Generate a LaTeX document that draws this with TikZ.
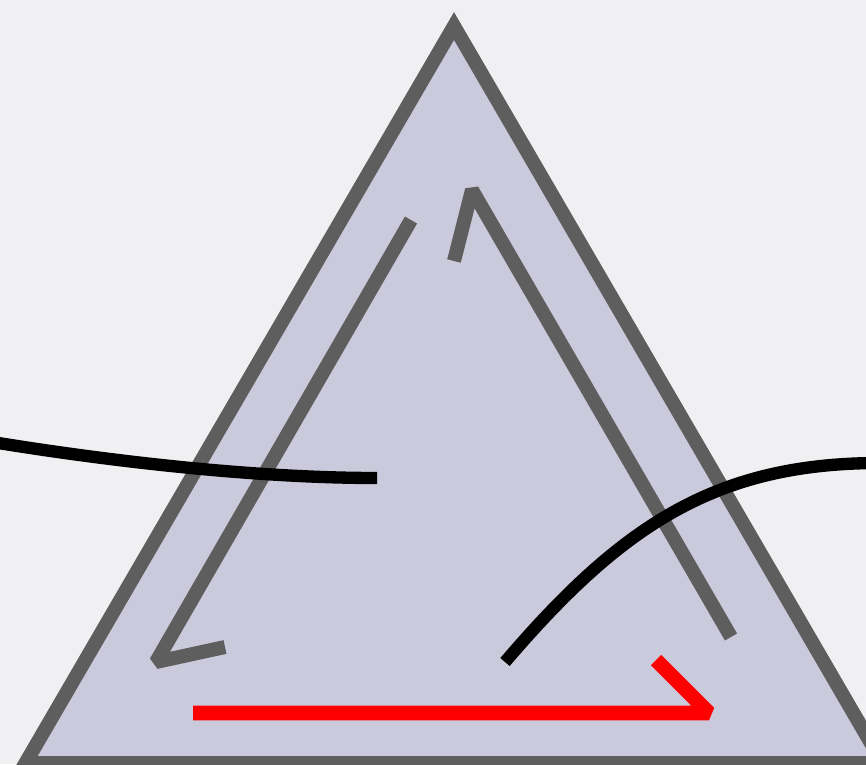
\documentclass[tikz,border=0pt]{standalone}
\definecolor{bgcol}{HTML}{F0F0F3}
\definecolor{trifill}{HTML}{CBCADD}
\definecolor{grayline}{HTML}{5E5E5E}
\definecolor{redline}{HTML}{FF0000}
\begin{document}
\begin{tikzpicture}[x=0.75pt,y=-0.75pt,
  tri/.style={draw=grayline,fill=trifill,line width=10.5pt,line join=miter},
  grayseg/.style={draw=grayline,line width=10.5pt,line join=bevel,line cap=butt},
  redseg/.style={draw=redline,line width=11pt,line join=bevel,line cap=butt},
  blackcurve/.style={draw=black,line width=9.25pt,line cap=butt}]
\fill[bgcol] (0,0) rectangle (866,764);
\useasboundingbox (0,0) rectangle (866,764);
\begin{scope}
\clip (0,0) rectangle (866,764);
% triangle
\coordinate (apex) at (454,26);
\coordinate (bl) at (25.5,763);
\coordinate (br) at (882.5,763);
\draw[tri] (apex) -- (bl) -- (br) -- cycle;
% inner gray polylines
\coordinate (g1a) at (411,220);
\coordinate (g1b) at (156,662);
\coordinate (g1c) at (225,647);
\draw[grayseg] (g1a) -- (g1b) -- (g1c);
\coordinate (g2a) at (454,261);
\coordinate (g2b) at (472,190);
\coordinate (g2c) at (731,637);
\draw[grayseg] (g2a) -- (g2b) -- (g2c);
% red polyline
\coordinate (r1) at (193,713);
\coordinate (r2) at (709,713);
\coordinate (r3) at (656,660);
\draw[redseg] (r1) -- (r2) -- (r3);
% black curves
\coordinate (k1a) at (-20,440);
\coordinate (k1b) at (377,478);
\draw[blackcurve] (k1a) .. controls (100,460) and (250,478) .. (k1b);
\coordinate (k2a) at (505,662);
\coordinate (k2b) at (880,463);
\draw[blackcurve] (k2a) .. controls (622,525) and (716,463) .. (k2b);
\end{scope}
\end{tikzpicture}
\end{document}
